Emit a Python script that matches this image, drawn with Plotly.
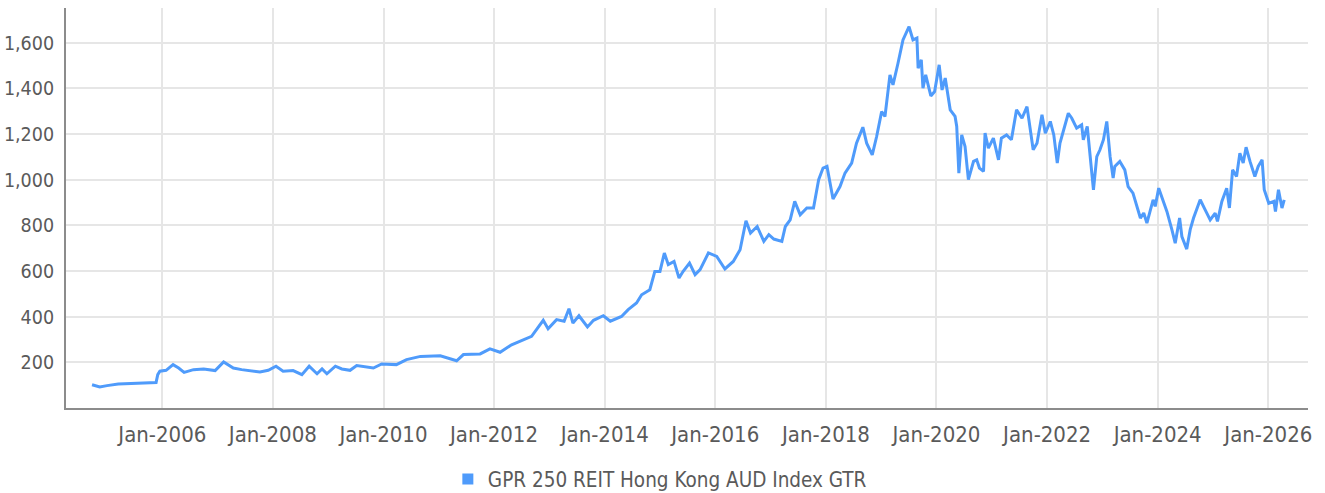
import plotly.graph_objects as go

dates = [
    "2004-09-24", "2004-11-14", "2005-01-01", "2005-03-16", "2005-11-21", "2005-12-02", "2005-12-16",
    "2006-01-26", "2006-03-13", "2006-04-19", "2006-05-25", "2006-07-26", "2006-10-01", "2006-12-16",
    "2007-02-10", "2007-04-15", "2007-06-09", "2007-08-14", "2007-10-08", "2007-12-02",
    "2008-01-22", "2008-03-09", "2008-05-14", "2008-07-11", "2008-08-28", "2008-10-19", "2008-11-21", "2008-12-23",
    "2009-02-17", "2009-04-01", "2009-05-25", "2009-07-08", "2009-10-26", "2009-12-20",
    "2010-03-27", "2010-06-02", "2010-09-02",
    "2011-01-11", "2011-04-29", "2011-06-13", "2011-10-01", "2011-12-05",
    "2012-02-10", "2012-04-26", "2012-07-01", "2012-09-05", "2012-11-21", "2012-12-23",
    "2013-02-17", "2013-04-08", "2013-05-10", "2013-06-05", "2013-07-15", "2013-09-09", "2013-10-19", "2013-12-23",
    "2014-02-07", "2014-04-22", "2014-06-05", "2014-07-30", "2014-09-02", "2014-10-26", "2014-11-28",
    "2015-01-01", "2015-01-30", "2015-02-25", "2015-04-04", "2015-05-07", "2015-06-02", "2015-07-15",
    "2015-08-21", "2015-09-23", "2015-11-17",
    "2016-01-11", "2016-03-05", "2016-04-29", "2016-06-13", "2016-07-22", "2016-08-21", "2016-10-04",
    "2016-11-17", "2016-12-20",
    "2017-01-22", "2017-03-16", "2017-04-08", "2017-05-10", "2017-06-09", "2017-07-15", "2017-08-28",
    "2017-10-11", "2017-11-14", "2017-12-13",
    "2018-01-08", "2018-02-17", "2018-04-04", "2018-05-07", "2018-06-20", "2018-07-22", "2018-09-02",
    "2018-09-27", "2018-11-03", "2018-12-02",
    "2019-01-04", "2019-01-26", "2019-02-28", "2019-03-20", "2019-04-22", "2019-05-25", "2019-07-04",
    "2019-07-30", "2019-08-25", "2019-09-02", "2019-09-23", "2019-10-04", "2019-10-22", "2019-11-25", "2019-12-20",
    "2020-01-19", "2020-02-07", "2020-02-28", "2020-04-01", "2020-05-03", "2020-05-14", "2020-05-28",
    "2020-06-16", "2020-07-08", "2020-07-30", "2020-09-02", "2020-09-23", "2020-10-11", "2020-11-07",
    "2020-11-17", "2020-12-09",
    "2021-01-11", "2021-02-14", "2021-03-05", "2021-04-08", "2021-05-10", "2021-06-13", "2021-07-19",
    "2021-08-21", "2021-10-01", "2021-10-26", "2021-11-28", "2021-12-20",
    "2022-01-22", "2022-02-14", "2022-03-09", "2022-03-27", "2022-05-21", "2022-06-13", "2022-07-15",
    "2022-08-17", "2022-08-28", "2022-09-23", "2022-10-11", "2022-11-03", "2022-11-25", "2022-12-16",
    "2023-01-08", "2023-01-30", "2023-02-21", "2023-03-13", "2023-03-24", "2023-04-26", "2023-05-29",
    "2023-06-20", "2023-07-22", "2023-08-17", "2023-09-09", "2023-10-01", "2023-10-22", "2023-12-02",
    "2023-12-16",
    "2024-01-08", "2024-02-10", "2024-03-02", "2024-04-04", "2024-04-26", "2024-05-25", "2024-06-09",
    "2024-07-11", "2024-08-03", "2024-08-25", "2024-10-08", "2024-11-10", "2024-12-13",
    "2025-01-15", "2025-01-30", "2025-02-28", "2025-04-01", "2025-04-19", "2025-05-10", "2025-06-05",
    "2025-06-27", "2025-07-19", "2025-08-07", "2025-09-02", "2025-10-04", "2025-10-26", "2025-11-21",
    "2025-12-05",
    "2026-01-04", "2026-02-07", "2026-02-17", "2026-03-09", "2026-04-01", "2026-04-16",
]

index_values = [
    102, 92, 98, 105, 112, 146, 161,
    165, 190, 175, 156, 168, 171, 164,
    202, 175, 168, 161, 158, 165,
    183, 161, 164, 146, 183, 150, 171, 150,
    183, 171, 165, 186, 175, 193,
    190, 212, 226,
    229, 207, 234, 237, 259,
    244, 277, 295, 314, 384, 347,
    387, 380, 435, 372, 404, 355, 384, 404,
    380, 401, 431, 460, 496, 518, 598,
    598, 679, 628, 642, 569, 598, 635,
    584, 606, 679,
    664, 609, 642, 693, 820, 766, 795,
    730, 759,
    740, 730, 795, 824, 905, 846, 876,
    876, 1000, 1051,
    1058, 915, 970, 1029, 1073, 1160, 1230,
    1160, 1109, 1189,
    1298, 1277, 1459, 1415, 1510, 1612, 1670,
    1612, 1620, 1488, 1525, 1401, 1459, 1367, 1386,
    1503, 1393, 1445, 1306, 1277, 1233, 1029,
    1196, 1145, 1000, 1080, 1087, 1051, 1036,
    1204, 1138,
    1182, 1087, 1182, 1196, 1175, 1306, 1269,
    1320, 1131, 1160, 1284, 1204,
    1255, 1196, 1073, 1160, 1291, 1269, 1226,
    1240, 1175, 1233, 1101, 956, 1101, 1131,
    1175, 1255, 1101, 1007, 1058, 1080, 1043,
    970, 941, 883, 832, 854, 810, 912,
    883,
    963, 897, 861, 781, 722, 832, 751,
    696, 781, 832, 912, 868, 824,
    854, 817, 905, 963, 876, 1043, 1014,
    1116, 1073, 1142, 1080, 1014, 1058, 1087,
    956,
    897, 905, 861, 956, 876, 912,
]

series_name = "GPR 250 REIT Hong Kong AUD Index GTR"
x_tick_dates = ["2006-01-01", "2008-01-01", "2010-01-01", "2012-01-01", "2014-01-01",
                "2016-01-01", "2018-01-01", "2020-01-01", "2022-01-01", "2024-01-01", "2026-01-01"]
x_tick_labels = ["Jan-2006", "Jan-2008", "Jan-2010", "Jan-2012", "Jan-2014",
                 "Jan-2016", "Jan-2018", "Jan-2020", "Jan-2022", "Jan-2024", "Jan-2026"]
y_tick_values = [200, 400, 600, 800, 1000, 1200, 1400, 1600]
y_tick_labels = ["200", "400", "600", "800", "1,000", "1,200", "1,400", "1,600"]

LINE_COLOR = "#4F9BFB"
FONT = "DejaVu Sans Condensed, sans-serif"
TEXT_COLOR = "#5A5A5A"

fig = go.Figure()
fig.add_trace(go.Scatter(
    x=dates, y=index_values, mode="lines",
    line=dict(color=LINE_COLOR, width=3),
    showlegend=False, name=series_name,
))
fig.add_trace(go.Scatter(
    x=[None], y=[None], mode="markers",
    marker=dict(symbol="square", size=11, color=LINE_COLOR),
    name=series_name, showlegend=True,
))

fig.update_layout(
    width=1325, height=493,
    margin=dict(l=66, r=17, t=8, b=85),
    paper_bgcolor="white", plot_bgcolor="white",
    font=dict(family=FONT, size=22, color=TEXT_COLOR),
    legend=dict(
        orientation="h", xref="container", yref="container",
        x=0.498, xanchor="center", y=0.028, yanchor="middle",
        font=dict(family=FONT, size=20.5, color=TEXT_COLOR),
        itemwidth=30, tracegroupgap=0,
    ),
    xaxis=dict(
        type="date", range=["2004-04-05", "2026-09-20"],
        tickvals=x_tick_dates, ticktext=x_tick_labels,
        tickfont=dict(family=FONT, size=22, color=TEXT_COLOR),
        showgrid=True, gridcolor="#E6E6E6", gridwidth=2,
        showline=True, linecolor="#8C8C8C", linewidth=2,
        ticks="", ticklabelstandoff=6, zeroline=False, automargin=False,
    ),
    yaxis=dict(
        range=[0, 1752],
        tickvals=y_tick_values, ticktext=y_tick_labels,
        tickfont=dict(family=FONT, size=19.5, color=TEXT_COLOR),
        showgrid=True, gridcolor="#E6E6E6", gridwidth=2,
        showline=True, linecolor="#8C8C8C", linewidth=2,
        ticks="", ticklabelstandoff=6, zeroline=False, automargin=False,
    ),
)

fig.write_html(
    "out.html",
    config={"displayModeBar": False},
    post_script="document.body.style.margin='0';",
)
